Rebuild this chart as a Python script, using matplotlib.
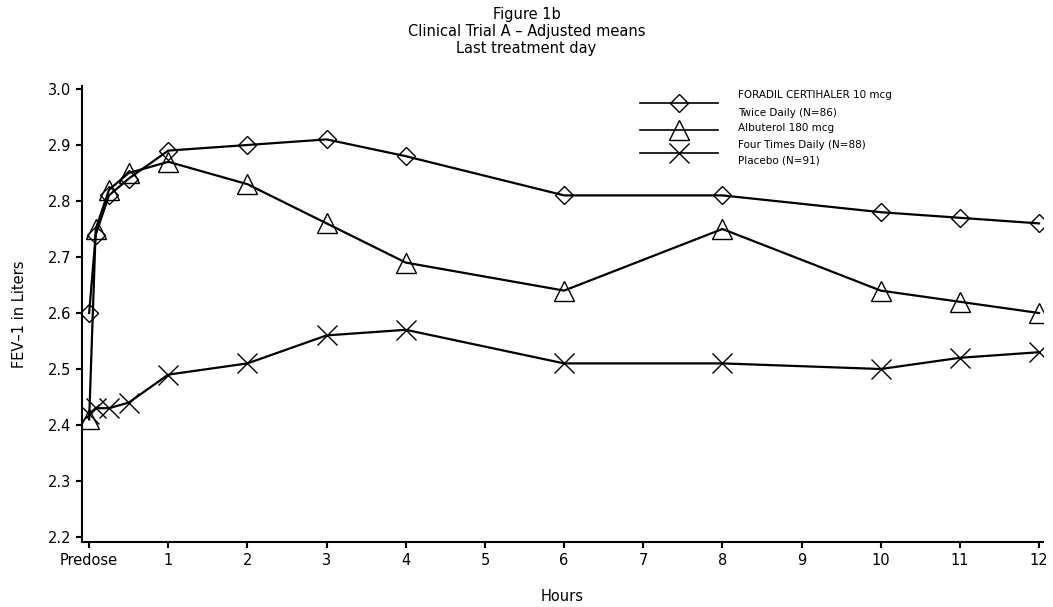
import matplotlib
matplotlib.use("Agg")
import matplotlib.pyplot as plt

# sampling times (hours after dose)
hours = [0, 0.083, 0.25, 0.5, 1, 2, 3, 4, 6, 8, 10, 11, 12]

foradil = [2.60, 2.74, 2.81, 2.84, 2.89, 2.90, 2.91, 2.88, 2.81, 2.81, 2.78, 2.77, 2.76]
albuterol = [2.41, 2.75, 2.82, 2.85, 2.87, 2.83, 2.76, 2.69, 2.64, 2.75, 2.64, 2.62, 2.60]
placebo = [2.42, 2.43, 2.43, 2.44, 2.49, 2.51, 2.56, 2.57, 2.51, 2.51, 2.50, 2.52, 2.53]

xticks = [0, 1, 2, 3, 4, 5, 6, 7, 8, 9, 10, 11, 12]
xticklabels = ["Predose", "1", "2", "3", "4", "5", "6", "7", "8", "9", "10", "11", "12"]
yticks = [2.2, 2.3, 2.4, 2.5, 2.6, 2.7, 2.8, 2.9, 3.0]

legend_labels = ["FORADIL CERTIHALER 10 mcg\nTwice Daily (N=86)",
                 "Albuterol 180 mcg\nFour Times Daily (N=88)",
                 "Placebo (N=91)"]

plt.rcParams["font.family"] = ["DejaVu Sans"]

fig = plt.figure(figsize=(10.53, 6.07), dpi=100)
ax = fig.add_axes([0.0779, 0.107, 0.9126, 0.751])

line_kw = dict(color="black", linewidth=1.6, markerfacecolor="none",
               markeredgecolor="black", markeredgewidth=1.0)
ax.plot(hours, foradil, marker="D", markersize=9, **line_kw)
ax.plot(hours, albuterol, marker="^", markersize=14, **line_kw)
ax.plot(hours, placebo, marker="x", markersize=15, **line_kw)

ax.set_xlim(-0.09, 12.05)
ax.set_ylim(2.191, 3.005)
ax.set_xticks(xticks)
ax.set_xticklabels(xticklabels)
ax.set_yticks(yticks)
ax.set_yticklabels(["%.1f" % v for v in yticks])
ax.tick_params(direction="out", length=4, width=1.5, labelsize=10.5, pad=4)

for s in ["top", "right"]:
    ax.spines[s].set_visible(False)
for s in ["left", "bottom"]:
    ax.spines[s].set_linewidth(1.5)

ax.set_xlabel("Hours", fontsize=10.5, labelpad=15)
ax.set_ylabel("FEV\u20131 in Liters", fontsize=10.5, labelpad=15)

fig.text(0.5, 0.988, "Figure 1b\nClinical Trial A \u2013 Adjusted means\nLast treatment day",
         ha="center", va="top", fontsize=10.5, linespacing=1.15)

# hand-drawn legend in the upper right
markers = [("D", 9), ("^", 14), ("x", 15)]
rows_y = [0.963, 0.904, 0.853]
text_y = [0.961, 0.889, 0.838]
for (m, ms), ly, ty, lab in zip(markers, rows_y, text_y, legend_labels):
    ax.plot([0.581, 0.662], [ly, ly], transform=ax.transAxes, color="black",
            linewidth=1.2, clip_on=False)
    ax.plot([0.621], [ly], transform=ax.transAxes, marker=m, markersize=ms,
            markerfacecolor="none", markeredgecolor="black", markeredgewidth=1.0,
            clip_on=False)
    ax.text(0.683, ty, lab, transform=ax.transAxes, fontsize=7.5,
            va="center", ha="left", linespacing=1.9)

fig.savefig("out.png", dpi=100)
